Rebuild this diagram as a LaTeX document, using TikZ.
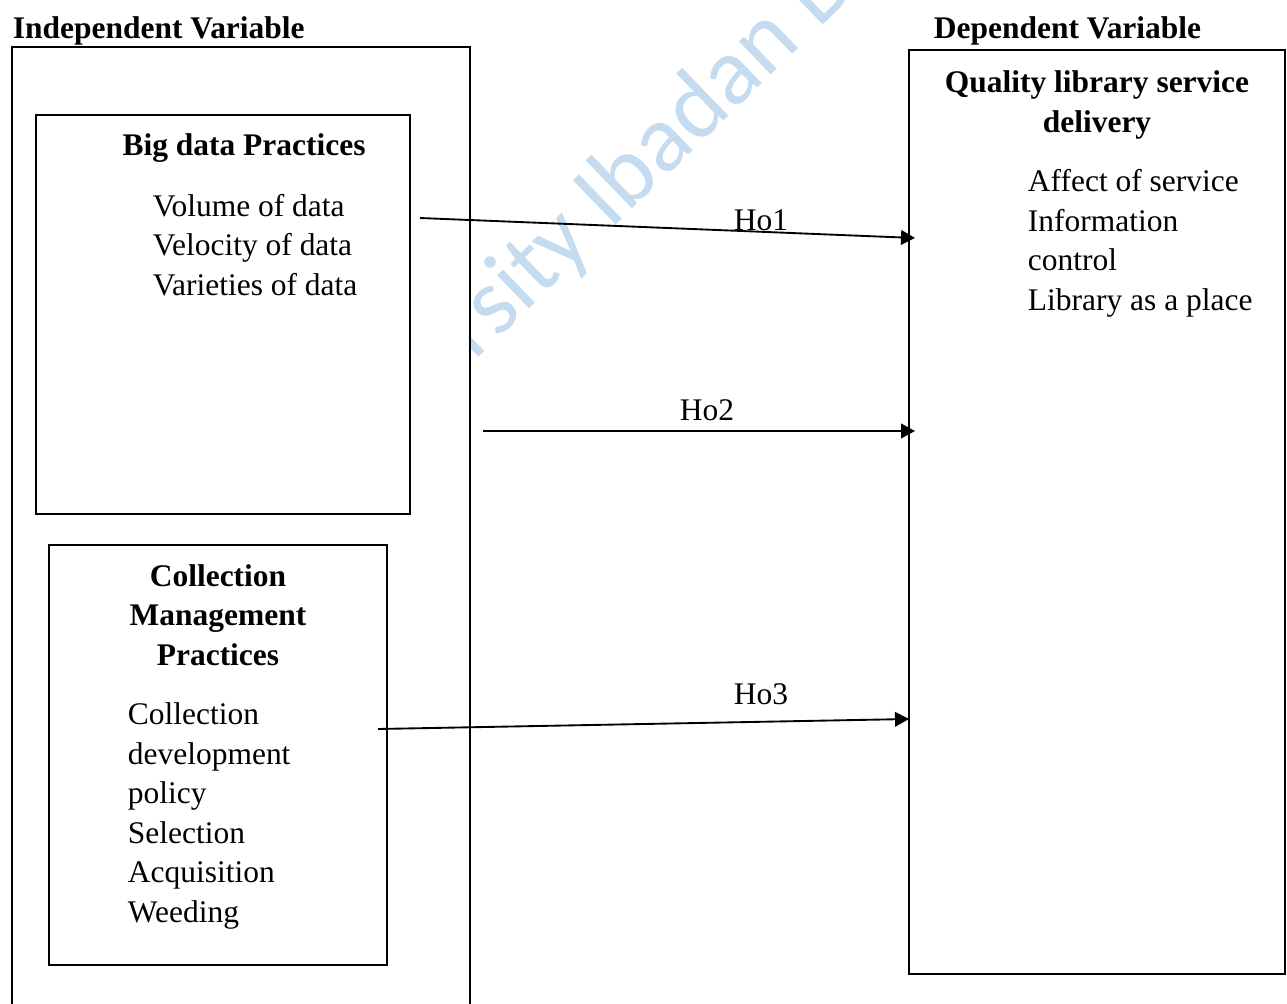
\documentclass[tikz,border=0pt]{standalone}
\usepackage{fontspec}
\setmainfont{Liberation Serif}
\newfontfamily\wmfont{Carlito}
\usetikzlibrary{arrows.meta}

\definecolor{wmblue}{RGB}{197,219,239}

\tikzset{every picture/.style={line width=1.4pt}}
\tikzset{
  txt/.style={inner sep=0pt, font=\fontsize{23.6}{29.6}\selectfont},
  hdr/.style={inner sep=0pt, font=\fontsize{23.6}{29.6}\selectfont\bfseries},
  wm/.style={inner sep=0pt, text=wmblue, font=\fontsize{72}{80}\wmfont},
  hyp/.style={-{Triangle[length=10.5pt,width=11pt]}},
}

\begin{document}
\begin{tikzpicture}[x=0.75pt,y=0.75pt,yscale=-1,xscale=1]
\useasboundingbox (0,0) rectangle (1287,1003);

%Watermark
\node[wm, anchor=base west, rotate=44] (wmark) at (474,362) {rsity Ibadan D};

%Shape: Independent frame (open at the bottom)
\draw [fill=white] (12,1010) -- (12,47) -- (470,47) -- (470,1010) ;
\node[hdr, anchor=base west] (indep) at (12,38) {Independent Variable};

%Shape: Big data box
\draw (36,115) rectangle (410,514) ;
\node[hdr, anchor=base] (bigdata) at (244,155) {Big data Practices};
%multi-line nodes sit on their last baseline
\node[txt, anchor=base west, align=left] (bigdatalist) at (152,295) {Volume of data\\Velocity of data\\Varieties of data};

%Shape: Collection box
\draw (49,545) rectangle (387,965) ;
\node[hdr, anchor=base, align=center] (colmgmt) at (218,665) {Collection\\Management\\Practices};
\node[txt, anchor=base west, align=left] (colmgmtlist) at (127,922) {Collection\\development\\policy\\Selection\\Acquisition\\Weeding};

%Shape: Dependent box
\draw (909,50) rectangle (1285,974) ;
\node[hdr, anchor=base west] (dep) at (933,38) {Dependent Variable};
\node[hdr, anchor=base, align=center] (quality) at (1097,132) {Quality library service\\delivery};
\node[txt, anchor=base west, align=left] (qualitylist) at (1027,310) {Affect of service\\Information\\control\\Library as a place};

%Hypotheses
\coordinate (ho1s) at (420,218);
\coordinate (ho1e) at (915,238);
\coordinate (ho2s) at (483,431);
\coordinate (ho2e) at (915,431);
\coordinate (ho3s) at (378,729);
\coordinate (ho3e) at (909,719);
\draw [hyp] (ho1s) -- (ho1e) ;
\draw [hyp] (ho2s) -- (ho2e) ;
\draw [hyp] (ho3s) -- (ho3e) ;
\node[txt, anchor=base] (ho1) at (761,230) {Ho1};
\node[txt, anchor=base] (ho2) at (707,420) {Ho2};
\node[txt, anchor=base] (ho3) at (761,704) {Ho3};

\end{tikzpicture}
\end{document}
